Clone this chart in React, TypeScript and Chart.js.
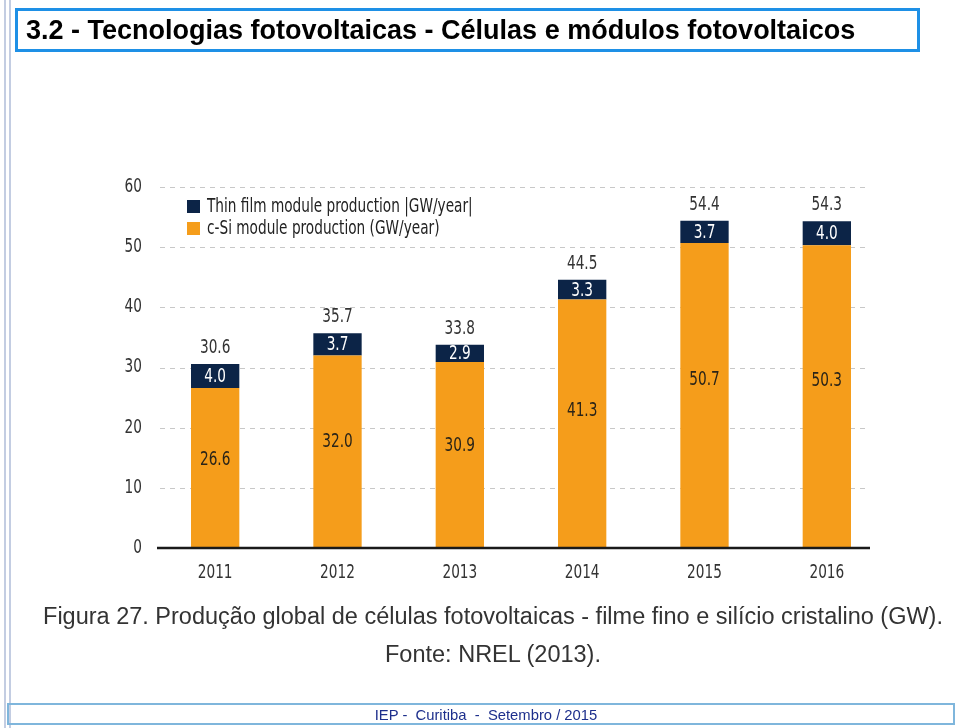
import React, { useEffect, useRef } from "react";
import { Chart, registerables } from "chart.js";

Chart.register(...registerables);

const years = ["2011", "2012", "2013", "2014", "2015", "2016"];
const cSiValues = [26.6, 32.0, 30.9, 41.3, 50.7, 50.3];
const thinFilmValues = [4.0, 3.7, 2.9, 3.3, 3.7, 4.0];
const totalLabels = ["30.6", "35.7", "33.8", "44.5", "54.4", "54.3"];
const yTickValues = [0, 10, 20, 30, 40, 50, 60];
const seriesNames = ["Thin film module production |GW/year|", "c-Si module production (GW/year)"];

const ORANGE = "#f59d1b";
const NAVY = "#0c2447";
const COND = "'DejaVu Sans Condensed', 'Liberation Sans Narrow', Roboto, sans-serif";
const ARIAL = "'Liberation Sans', Arial, Helvetica, sans-serif";
const NARROW = 0.8;

function condText(ctx: any, text: string, x: number, y: number, align: string, color: string, size = 19) {
  ctx.save();
  ctx.translate(x, y);
  ctx.scale(NARROW, 1);
  ctx.font = `${size}px ${COND}`;
  ctx.textAlign = align;
  ctx.textBaseline = "middle";
  ctx.fillStyle = color;
  ctx.fillText(text, 0, 0);
  ctx.restore();
}

const overlayPlugin = {
  id: "overlay",
  beforeDatasetsDraw(chart: any) {
    const { ctx, chartArea, scales } = chart;
    const y = scales.y;
    ctx.save();
    ctx.strokeStyle = "#c8c8c8";
    ctx.lineWidth = 1;
    ctx.setLineDash([5, 5]);
    yTickValues.forEach((v) => {
      if (v === 0) return;
      const py = Math.round(y.getPixelForValue(v)) + 0.5;
      ctx.beginPath();
      ctx.moveTo(chartArea.left + 6, py);
      ctx.lineTo(chartArea.right - 18, py);
      ctx.stroke();
    });
    ctx.restore();
  },
  afterDatasetsDraw(chart: any) {
    const { ctx, chartArea, scales } = chart;
    const y = scales.y;
    const x = scales.x;
    const m0 = chart.getDatasetMeta(0).data;
    const m1 = chart.getDatasetMeta(1).data;
    ctx.save();
    // zero axis
    const py0 = y.getPixelForValue(0);
    ctx.strokeStyle = "#1a1a1a";
    ctx.lineWidth = 2.5;
    ctx.beginPath();
    ctx.moveTo(chartArea.left + 3, py0);
    ctx.lineTo(chartArea.right - 18, py0);
    ctx.stroke();
    ctx.restore();

    // y tick labels
    yTickValues.forEach((v) => {
      condText(ctx, String(v), chartArea.left - 12, y.getPixelForValue(v), "right", "#333333");
    });
    // x tick labels
    years.forEach((yr, i) => {
      condText(ctx, yr, x.getPixelForValue(i), chartArea.bottom + 25, "center", "#333333");
    });

    years.forEach((_, i) => {
      const b0 = m0[i];
      const b1 = m1[i];
      condText(ctx, cSiValues[i].toFixed(1), b0.x, y.getPixelForValue(cSiValues[i] * 0.55), "center", "#2a2418");
      condText(ctx, thinFilmValues[i].toFixed(1), b1.x, (b1.y + b1.base) / 2 + 1, "center", "#ffffff");
      condText(ctx, totalLabels[i], b1.x, b1.y - 16, "center", "#333333");
    });

    // legend
    const lx = chartArea.left + 33;
    const ly = chartArea.top + 13;
    const colors = [NAVY, ORANGE];
    seriesNames.forEach((name, k) => {
      const yy = ly + k * 22;
      ctx.fillStyle = colors[k];
      ctx.fillRect(lx, yy, 13, 13);
      condText(ctx, name, lx + 20, yy + 7, "left", "#222222");
    });
  },
};

function BarChart() {
  const ref = useRef<HTMLCanvasElement | null>(null);
  useEffect(() => {
    if (!ref.current) return;
    const chart = new Chart(ref.current, {
      type: "bar",
      data: {
        labels: years,
        datasets: [
          { label: seriesNames[1], data: cSiValues, backgroundColor: ORANGE, stack: "s" },
          { label: seriesNames[0], data: thinFilmValues, backgroundColor: NAVY, stack: "s" },
        ],
      },
      options: {
        animation: false,
        responsive: false,
        maintainAspectRatio: false,
        devicePixelRatio: 1,
        datasets: { bar: { barPercentage: 0.395, categoryPercentage: 1 } },
        layout: { padding: { top: 187, right: 72, bottom: 140, left: 0 } },
        plugins: { legend: { display: false }, tooltip: { enabled: false }, title: { display: false } },
        scales: {
          x: {
            stacked: true,
            grid: { display: false, drawTicks: false },
            border: { display: false },
            ticks: { display: false },
            afterFit(s: any) {
              s.height = 40;
            },
          },
          y: {
            stacked: true,
            min: 0,
            max: 60,
            grid: { display: false, drawTicks: false },
            border: { display: false },
            ticks: { display: false, stepSize: 10 },
            afterFit(s: any) {
              s.width = 154;
            },
          },
        },
      },
      plugins: [overlayPlugin],
    } as any);
    return () => chart.destroy();
  }, []);
  return <canvas ref={ref} width={960} height={728} style={{ position: "absolute", left: 0, top: 0, width: 960, height: 728 }} />;
}

export default function App() {
  return (
    <div style={{ position: "fixed", left: 0, top: 0, width: 960, height: 728, background: "#fff", overflow: "hidden" }}>
      <div style={{ position: "absolute", left: 4, top: 0, width: 2, height: 728, background: "#c3cde2" }} />
      <div style={{ position: "absolute", left: 9, top: 0, width: 2, height: 728, background: "#c3cde2" }} />
      <BarChart />
      <div
        style={{
          position: "absolute",
          left: 15,
          top: 8,
          width: 905,
          height: 44,
          boxSizing: "border-box",
          border: "3px solid #1e90e6",
          fontFamily: ARIAL,
          fontWeight: "bold",
          fontSize: 27,
          lineHeight: "38px",
          paddingLeft: 8,
          color: "#000",
          whiteSpace: "nowrap",
        }}
      >
        3.2 - Tecnologias fotovoltaicas - Células e módulos fotovoltaicos
      </div>
      <div
        style={{
          position: "absolute",
          left: 26,
          top: 597,
          width: 934,
          textAlign: "center",
          fontFamily: ARIAL,
          fontSize: 23.5,
          color: "#333",
          lineHeight: "38px",
          whiteSpace: "nowrap",
        }}
      >
        <div>Figura 27. Produção global de células fotovoltaicas - filme fino e silício cristalino (GW).</div>
        <div>Fonte: NREL (2013).</div>
      </div>
      <div
        style={{
          position: "absolute",
          left: 7,
          top: 703,
          width: 948,
          height: 22,
          boxSizing: "border-box",
          border: "2px solid #7fb6dc",
          fontFamily: ARIAL,
          fontSize: 14.8,
          lineHeight: "20px",
          paddingLeft: 10,
          textAlign: "center",
          color: "#1d2f8c",
          whiteSpace: "nowrap",
        }}
      >
        IEP -&nbsp; Curitiba&nbsp; -&nbsp; Setembro / 2015
      </div>
    </div>
  );
}
